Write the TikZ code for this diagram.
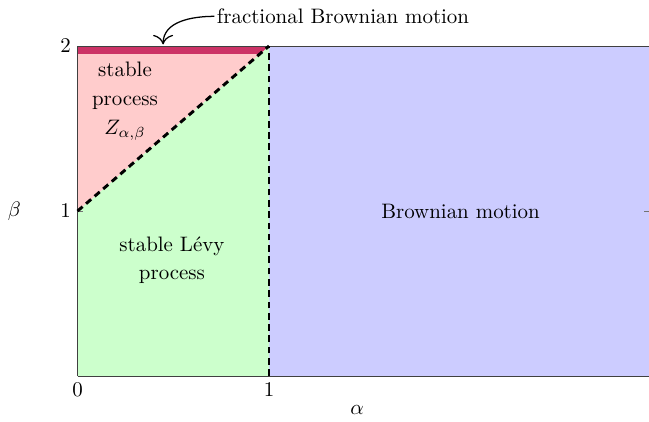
\documentclass[tikz,border=0pt]{standalone}
\usepackage{amsmath,amssymb}
\usepackage{xcolor}
\definecolor{fbmred}{RGB}{204,51,102}
\usepackage{tikz}
\usetikzlibrary{positioning,arrows.meta,calc}
\tikzset{
  reg/.style  ={draw=none},
  rlab/.style ={align=center, inner sep=1pt},
  tlab/.style ={inner sep=3pt},
  bnd/.style  ={black, line width=1.4pt, dash pattern=on 3.2pt off 2.2pt},
  frm/.style  ={black!75, line width=0.5pt},
  tck/.style  ={black!55, line width=0.5pt},
  arr/.style  ={-{To[length=1.6mm]}, semithick},
}

\begin{document}
\begin{tikzpicture}[x=3.217cm, y=2.772cm]
  \useasboundingbox (-0.4047,-0.2727) rectangle (2.984,2.279);
  % regions
  \fill[blue!20]  (1,0) rectangle (3.1,2);
  \fill[green!20] (0,0) -- (1,0) -- (1,2) -- (0,1) -- cycle;
  \fill[red!20]   (0,1) -- (1,2) -- (0,2) -- cycle;
  \fill[fbmred]   (0,1.952) -- (0.952,1.952) -- (1,2) -- (0,2) -- cycle;
  % frame and ticks
  \draw[frm] (0,0) -- (3.1,0);
  \draw[frm] (0,2) -- (3.1,2);
  \draw[frm] (0,0) -- (0,2);
  \draw[tck] (0,1) -- ++(0.028,0);
  \draw[tck] (2.984,1) -- ++(-0.028,0);
  \draw[tck] (1,0) -- ++(0,0.032);
  % boundaries
  \draw[bnd] (0,1) -- (1,2);
  \draw[bnd] (1,0) -- (1,2);
  % tick labels
  \node[tlab, below] (x0) at (0,0) {$0$};
  \node[tlab, below] (x1) at (1,0) {$1$};
  \node[tlab, left]  (y1) at (0,1) {$1$};
  \node[tlab, left]  (y2) at (0,2) {$2$};
  \node (alab) at (1.46,-0.206) {$\alpha$};
  \node (blab) at (-0.33,1) {$\beta$};
  % region labels
  \node[rlab] (stab) at (0.248,1.665) {stable\\[1.5pt]process\\[2pt]$Z_{\alpha,\beta}$};
  \node[rlab] (levy) at (0.493,0.70) {stable L\'{e}vy\\[1.5pt]process};
  \node[rlab] (bm)   at (2.0,1.0) {Brownian motion};
  \node[rlab, anchor=west] (fbm) at (0.715,2.18) {fractional Brownian motion};
  \coordinate (fbmtip) at (0.447,2.01);
  \draw[arr] (fbm.west) to[out=180, in=90] (fbmtip);
\end{tikzpicture}
\end{document}
